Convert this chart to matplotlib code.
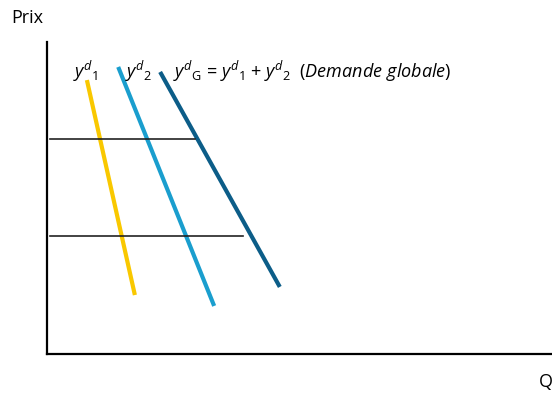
"""Demand aggregation diagram: two individual demand curves and their sum."""

import matplotlib.pyplot as plt

plt.rcParams["font.family"] = ["Open Sans", "DejaVu Sans"]
plt.rcParams["mathtext.fontset"] = "custom"
plt.rcParams["mathtext.it"] = "Open Sans:italic"
plt.rcParams["mathtext.rm"] = "Open Sans"
plt.rcParams["mathtext.bf"] = "Open Sans:bold"

# Demand curves: (quantity, price) end points
demand_1_q = [7.9, 17.4]
demand_1_p = [87.8, 18.9]
demand_2_q = [14.1, 33.1]
demand_2_p = [92.0, 15.4]
demand_g_q = [22.4, 46.1]
demand_g_p = [90.4, 21.5]

# Horizontal price guides: price level and end quantity
price_levels = [68.9, 37.8]
price_ends = [29.3, 38.8]
price_start = 0.6

fig = plt.figure(figsize=(5.52, 3.94), dpi=100)
ax = fig.add_axes([47 / 552, 40 / 394, 505 / 552, 312 / 394])
ax.set_xlim(0, 100)
ax.set_ylim(0, 100)

ax.plot(demand_1_q, demand_1_p, color="#F9C800", lw=3.0, solid_capstyle="butt")
ax.plot(demand_2_q, demand_2_p, color="#1A9ECE", lw=3.0, solid_capstyle="butt")
ax.plot(demand_g_q, demand_g_p, color="#0C5D88", lw=3.0, solid_capstyle="butt")

for p, end in zip(price_levels, price_ends):
    ax.plot([price_start, end], [p, p], color="#222222", lw=1.2)

for side in ("top", "right"):
    ax.spines[side].set_visible(False)
ax.spines["left"].set_linewidth(1.6)
ax.spines["bottom"].set_linewidth(1.6)
ax.set_xticks([])
ax.set_yticks([])

label_y = 88.5
ax.text(5.1, label_y, r"$y^{d}{}_{1}$", fontsize=13, va="baseline")
ax.text(15.4, label_y, r"$y^{d}{}_{2}$", fontsize=13, va="baseline")
ax.text(24.9, label_y,
        r"$y^{d}{}_{\mathrm{G}}$ = $y^{d}{}_{1}$ + $y^{d}{}_{2}$  "
        r"($\mathit{Demande\ globale}$)",
        fontsize=13, va="baseline")

fig.text(11 / 552, 1 - 18 / 394, "Prix", fontsize=13, va="center")
fig.text(539 / 552, 1 - 382 / 394, "Q", fontsize=13, va="center")

fig.savefig("out.png", dpi=100)
